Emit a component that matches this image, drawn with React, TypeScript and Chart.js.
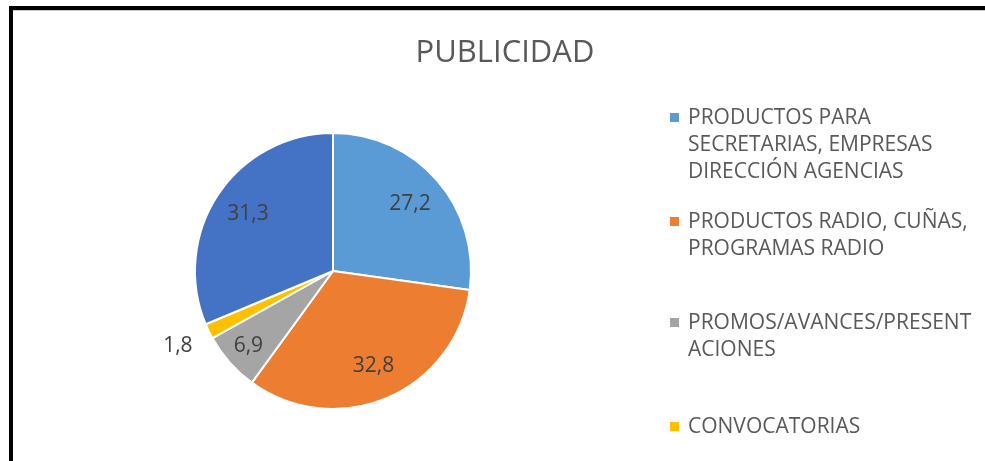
import React, { useEffect, useRef } from "react";
import { Chart, registerables } from "chart.js";

Chart.register(...registerables);

const TITLE = "PUBLICIDAD";
const CATEGORIES: string[][] = [
  ["PRODUCTOS PARA", "SECRETARIAS, EMPRESAS", "DIRECCIÓN AGENCIAS"],
  ["PRODUCTOS RADIO, CUÑAS,", "PROGRAMAS RADIO"],
  ["PROMOS/AVANCES/PRESENT", "ACIONES"],
  ["CONVOCATORIAS"],
  ["OTROS"],
];
const VALUES: number[] = [27.2, 32.8, 6.9, 1.8, 31.3];
const COLORS: string[] = ["#5B9BD5", "#ED7D31", "#A5A5A5", "#FFC000", "#4472C4"];

const FONT = "'Open Sans', 'DejaVu Sans', sans-serif";
const LABEL_RADIUS = [0.74, 0.75, 0.82, 1.25, 0.74];
const LEGEND_BASELINES = [124, 228, 329, 433, 537];

const decorPlugin = {
  id: "decor",
  beforeDraw(chart: any) {
    const ctx = chart.ctx;
    ctx.save();
    ctx.fillStyle = "#ffffff";
    ctx.fillRect(0, 0, chart.width, chart.height);
    ctx.restore();
  },
  afterDraw(chart: any) {
    const ctx = chart.ctx;
    ctx.save();
    // frame
    ctx.fillStyle = "#000000";
    ctx.fillRect(9, 6, chart.width - 9, 4);
    ctx.fillRect(9, 6, 4, chart.height - 6);
    ctx.fillStyle = "#c8c8c8";
    ctx.fillRect(13, 10, chart.width - 13, 1);
    // title
    ctx.fillStyle = "#595959";
    ctx.font = `31px ${FONT}`;
    ctx.textAlign = "center";
    ctx.textBaseline = "alphabetic";
    ctx.fillText(TITLE, 505, 62);
    // data labels
    const meta = chart.getDatasetMeta(0);
    ctx.font = `21px ${FONT}`;
    ctx.fillStyle = "#404040";
    ctx.textBaseline = "middle";
    meta.data.forEach((arc: any, i: number) => {
      const p = arc.getProps(["x", "y", "startAngle", "endAngle", "outerRadius"], true);
      const mid = (p.startAngle + p.endAngle) / 2;
      const r = p.outerRadius * LABEL_RADIUS[i];
      const x = p.x + Math.cos(mid) * r;
      const y = p.y + Math.sin(mid) * r;
      ctx.fillText(VALUES[i].toFixed(1).replace(".", ","), x, y);
    });
    // legend
    ctx.textAlign = "left";
    ctx.textBaseline = "alphabetic";
    ctx.font = `21px ${FONT}`;
    CATEGORIES.forEach((lines, i) => {
      const base = LEGEND_BASELINES[i];
      ctx.fillStyle = COLORS[i];
      ctx.fillRect(670, base - 11, 9, 9);
      ctx.fillStyle = "#595959";
      lines.forEach((ln, j) => ctx.fillText(ln, 688, base + j * 27));
    });
    ctx.restore();
  },
};

export default function App() {
  const ref = useRef<HTMLCanvasElement | null>(null);
  useEffect(() => {
    if (!ref.current) return;
    const chart = new Chart(ref.current, {
      type: "pie",
      data: {
        labels: CATEGORIES.map((l) => l.join(" ")),
        datasets: [
          {
            data: VALUES,
            backgroundColor: COLORS,
            borderColor: "#ffffff",
            borderWidth: 2,
          },
        ],
      },
      options: {
        responsive: false,
        animation: false,
        layout: { padding: { left: 194, right: 513, top: 132, bottom: 51 } },
        plugins: {
          legend: { display: false },
          title: { display: false },
          tooltip: { enabled: false },
        },
      },
      plugins: [decorPlugin],
    });
    return () => chart.destroy();
  }, []);
  return (
    <div style={{ position: "fixed", left: 0, top: 0, width: 985, height: 461, background: "#fff" }}>
      <canvas ref={ref} width={985} height={461} style={{ display: "block" }} />
    </div>
  );
}
